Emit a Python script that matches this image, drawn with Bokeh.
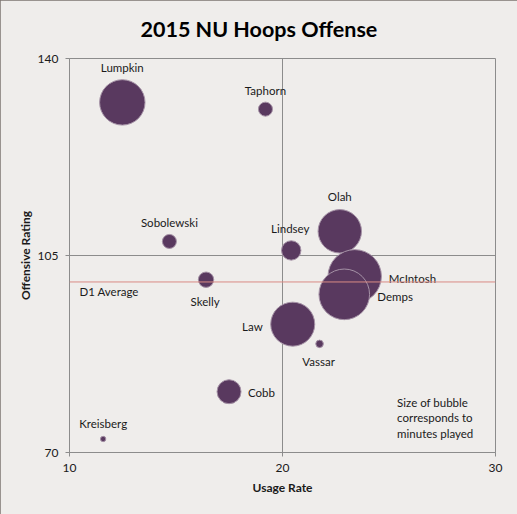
from bokeh.plotting import figure
from bokeh.models import ColumnDataSource, Span, FixedTicker, Label
from bokeh.core.properties import value
from bokeh.embed import file_html
from bokeh.resources import INLINE
import numpy as np

# ---- data ----
title_text = "2015 NU Hoops Offense"
players = ["Lumpkin", "Taphorn", "Sobolewski", "Lindsey", "Olah", "McIntosh",
           "Demps", "Skelly", "Law", "Vassar", "Cobb", "Kreisberg"]
usage = [12.48, 19.20, 14.69, 20.41, 22.69, 23.39, 22.90, 16.41, 20.48, 21.74, 17.49, 11.58]
ortg = [132.2, 131.0, 107.5, 105.9, 109.3, 101.3, 98.1, 100.7, 92.8, 89.3, 80.8, 72.4]
minutes = [795, 76, 76, 145, 727, 1100, 988, 91, 747, 22, 222, 11]
d1_average = 100.3
x_ticks = [10, 20, 30]
y_ticks = [70, 105, 140]

# ---- label placement (px offsets, align) ----
label_place = {
    "Lumpkin": (0, -35, "center"),
    "Taphorn": (0, -19, "center"),
    "Sobolewski": (0, -19, "center"),
    "Lindsey": (-1, -22, "center"),
    "Olah": (0, -35, "center"),
    "McIntosh": (34, 2, "left"),
    "Demps": (33, 2, "left"),
    "Skelly": (-1, 22, "center"),
    "Law": (-30, 2, "right"),
    "Vassar": (-1, 18, "center"),
    "Cobb": (19, 1, "left"),
    "Kreisberg": (0, -15, "center"),
}

BG = "#efedeb"
GRID = "#8c8c8c"
FONT = "Lato"

max_diam = 53.4
sizes = [max_diam * np.sqrt(m / max(minutes)) for m in minutes]

src = ColumnDataSource(dict(
    x=usage, y=ortg, name=players, size=sizes,
    xo=[label_place[n][0] for n in players],
    yo=[label_place[n][1] for n in players],
    al=[label_place[n][2] for n in players],
))

p = figure(width=517, height=514, output_backend="svg", toolbar_location=None,
           x_range=(10, 30), y_range=(70, 140),
           min_border_left=69, min_border_right=22, min_border_top=57, min_border_bottom=62)
p.background_fill_color = BG
p.border_fill_color = BG
p.outline_line_color = GRID
p.outline_line_width = 1
p.styles = {"outline": "2px solid #7d7571", "outline-offset": "-2px"}

p.title.text = title_text
p.title.text_font = FONT
p.title.text_font_size = "21.5px"
p.title.text_font_style = "bold"
p.title.align = "left"
p.title.offset = 71
p.title.standoff = 30
p.title.vertical_align = "top"
p.title.text_color = "#000000"

for ax in (p.xaxis[0], p.yaxis[0]):
    ax.axis_line_color = GRID
    ax.major_tick_line_color = GRID
    ax.major_tick_out = 4
    ax.major_tick_in = 0
    ax.minor_tick_line_color = None
    ax.major_label_text_font = FONT
    ax.major_label_text_font_size = "12px"
    ax.major_label_text_color = "#1a1a1a"
    ax.axis_label_text_font = FONT
    ax.axis_label_text_font_size = "12px"
    ax.axis_label_text_font_style = "bold"
    ax.axis_label_text_color = "#1a1a1a"

p.xaxis.ticker = FixedTicker(ticks=x_ticks)
p.yaxis.ticker = FixedTicker(ticks=y_ticks)
p.xaxis.axis_label = "Usage Rate"
p.yaxis.axis_label = "Offensive Rating"
p.xaxis.major_label_standoff = 7
p.yaxis.major_label_standoff = 7
p.xaxis.axis_label_standoff = 5
p.yaxis.axis_label_standoff = 2

p.xgrid.ticker = FixedTicker(ticks=x_ticks)
p.ygrid.ticker = FixedTicker(ticks=y_ticks)
p.xgrid.grid_line_color = GRID
p.ygrid.grid_line_color = GRID

p.add_layout(Span(location=d1_average, dimension="width", line_color="#d98a84", line_width=1))

p.scatter(x="x", y="y", size="size", source=src, fill_color="#59395f",
          line_color="#a592a6", line_width=1)

p.text(x="x", y="y", text="name", source=src, x_offset="xo", y_offset="yo",
       text_align="al", text_baseline="middle", text_font=value(FONT),
       text_font_size="11.5px", text_color="#1a1a1a")

p.text(x=[10], y=[d1_average], text=["D1 Average"], x_offset=10, y_offset=10,
       text_baseline="middle", text_font=value(FONT), text_font_size="11.5px",
       text_color="#1a1a1a")

note = Label(x=25.38, y=80.1, text="Size of bubble\ncorresponds to\nminutes played",
             text_font=FONT, text_font_size="11.5px", text_color="#1a1a1a",
             text_baseline="top", text_line_height=1.2)
p.add_layout(note)

open("out.html", "w").write(file_html(p, INLINE))
